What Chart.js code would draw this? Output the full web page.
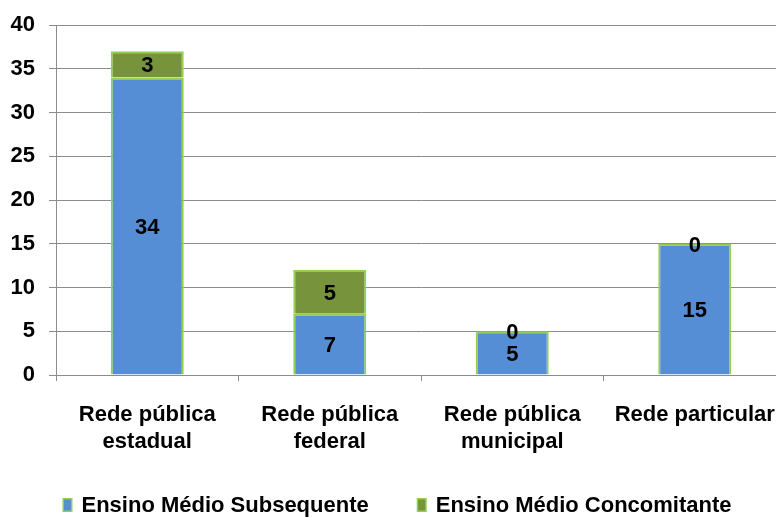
<!DOCTYPE html>
<html>
<head>
<meta charset="utf-8">
<script src="https://cdn.jsdelivr.net/npm/chart.js@4/dist/chart.umd.min.js"></script>
<style>
  html, body { margin: 0; padding: 0; background: #fff; overflow: hidden; }
  #wrap { width: 800px; height: 518px; position: relative; }
</style>
</head>
<body>
<div id="wrap"><canvas id="chart"></canvas></div>
<script>
const categories = [
  ['Rede pública', 'estadual'],
  ['Rede pública', 'federal'],
  ['Rede pública', 'municipal'],
  ['Rede particular'],
];
const subsequente = [34, 7, 5, 15];
const concomitante = [3, 5, 0, 0];
const seriesNames = ['Ensino Médio Subsequente', 'Ensino Médio Concomitante'];

const FONT = '"Liberation Sans", Arial, sans-serif';
const GRID = '#8c8c8c';

// writes each segment's value in the middle of its bar piece
const valueLabels = {
  id: 'valueLabels',
  afterDatasetsDraw(chart) {
    const ctx = chart.ctx;
    ctx.save();
    ctx.font = 'bold 22px ' + FONT;
    ctx.fillStyle = '#000';
    ctx.textAlign = 'center';
    ctx.textBaseline = 'middle';
    chart.data.datasets.forEach((ds, i) => {
      chart.getDatasetMeta(i).data.forEach((bar, j) => {
        const p = bar.getCenterPoint();
        ctx.fillText(String(ds.data[j]), p.x, p.y + 2);
      });
    });
    ctx.restore();
  }
};

// legend row under the axis: small framed swatch + bold name, centred
const bottomLegend = {
  id: 'bottomLegend',
  afterDraw(chart, args, opts) {
    const ctx = chart.ctx;
    const boxW = 10, boxH = 14, textGap = 9;
    ctx.save();
    ctx.font = 'bold 22px ' + FONT;
    const items = chart.data.datasets.map(ds => ({
      ds,
      w: boxW + textGap + ctx.measureText(ds.label).width,
    }));
    const total = items.reduce((s, it) => s + it.w, 0) + opts.gap * (items.length - 1);
    let x = opts.centerX - total / 2;
    items.forEach(it => {
      const top = opts.baseline - boxH;
      ctx.fillStyle = it.ds.borderColor;
      ctx.fillRect(x, top, boxW, boxH);
      ctx.fillStyle = it.ds.backgroundColor;
      ctx.fillRect(x + 1.5, top + 1.5, boxW - 3, boxH - 3);
      ctx.fillStyle = '#000';
      ctx.textBaseline = 'alphabetic';
      ctx.fillText(it.ds.label, x + boxW + textGap, opts.baseline);
      x += it.w + opts.gap;
    });
    ctx.restore();
  }
};

new Chart(document.getElementById('chart'), {
  type: 'bar',
  data: {
    labels: categories,
    datasets: [
      {
        label: seriesNames[0],
        data: subsequente,
        backgroundColor: '#558ed5',
        borderColor: '#92d050',
        borderWidth: 2,
        borderSkipped: 'bottom',
      },
      {
        label: seriesNames[1],
        data: concomitante,
        backgroundColor: '#77933c',
        borderColor: '#92d050',
        borderWidth: 2,
        borderSkipped: 'bottom',
      },
    ],
  },
  options: {
    responsive: true,
    maintainAspectRatio: false,
    animation: false,
    categoryPercentage: 0.4,
    barPercentage: 1,
    layout: { padding: { top: 25, right: 14, bottom: 53, left: 0 } },
    plugins: {
      tooltip: { enabled: false },
      legend: { display: false },
      bottomLegend: { centerX: 397, baseline: 512, gap: 48 },
    },
    scales: {
      x: {
        stacked: true,
        grid: { display: true, drawOnChartArea: false, offset: true, color: GRID, tickLength: 6 },
        border: { color: GRID, width: 1 },
        ticks: {
          color: '#000',
          font: { family: FONT, size: 22, weight: 'bold', lineHeight: 1.25 },
          padding: 20,
          maxRotation: 0,
          autoSkip: false,
        },
        afterFit(scale) { scale.height = 90; },
      },
      y: {
        stacked: true,
        min: 0,
        max: 40,
        grid: { color: GRID, lineWidth: 1, tickLength: 7 },
        border: { color: GRID, width: 1 },
        ticks: {
          stepSize: 5,
          color: '#000',
          font: { family: FONT, size: 22, weight: 'bold', lineHeight: 1 },
          padding: 14,
        },
        afterFit(scale) {
          scale.width = 56;
          scale.paddingTop = 0;
        },
      },
    },
  },
  plugins: [valueLabels, bottomLegend],
});
</script>
</body>
</html>
